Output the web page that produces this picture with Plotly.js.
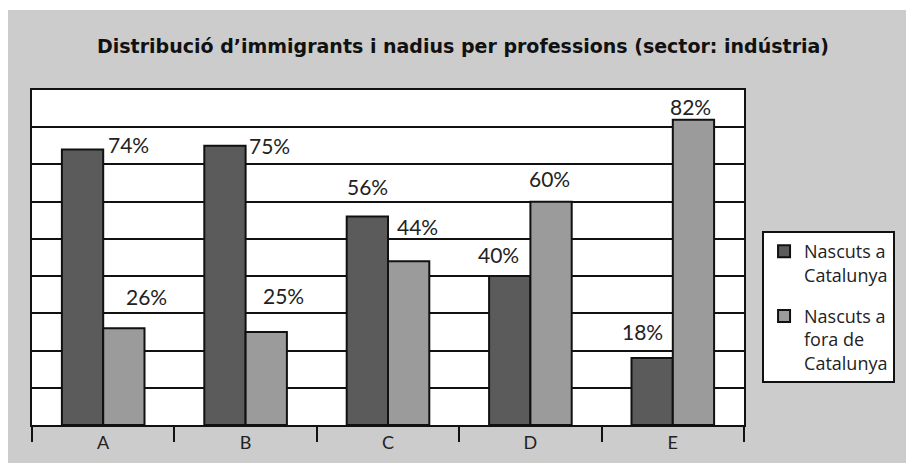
<!DOCTYPE html>
<html>
<head>
<meta charset="utf-8">
<script src="https://cdn.plot.ly/plotly-3.0.1.min.js"></script>
<style>
  html, body { margin: 0; padding: 0; background: #ffffff; width: 906px; height: 463px; overflow: hidden; }
  #chart { position: absolute; left: 8px; top: 10px; width: 898px; height: 453px; }
</style>
</head>
<body>
<div id="chart"></div>
<script>
// ---- data ----
const categories = ['A', 'B', 'C', 'D', 'E'];
const nascutsCatalunya = [74, 75, 56, 40, 18];
const nascutsFora = [26, 25, 44, 60, 82];
const seriesNames = ['Nascuts a<br>Catalunya', 'Nascuts a<br>fora de<br>Catalunya'];
const chartTitle = 'Distribució d’immigrants i nadius per professions (sector: indústria)';

// ---- layout / style settings ----
const FONT = 'Lato, "Open Sans", "DejaVu Sans", sans-serif';
const FONT2 = '"Open Sans", Lato, "DejaVu Sans", sans-serif';
const FONT_TITLE = '"DejaVu Sans", "Open Sans", sans-serif';
const plotW = 712, plotH = 335;
const margin = { l: 24, r: 162, t: 80, b: 38 };
const bargap = 0.42;
const barOff = (plotW / categories.length) * (1 - bargap) / 4;
// label nudges in px [dx, dy] (layout only)
const nudgeDark = [[46, 5], [45, 0], [0, 30], [-11, 22], [-10, 27]];
const nudgeLight = [[23, 32], [17, 36], [9, 35], [-2, 23], [-3, 13]];

const traces = [
  {
    type: 'bar', name: seriesNames[0], x: categories, y: nascutsCatalunya,
    marker: { color: '#5b5b5b', line: { color: '#111111', width: 2 } },
    legendgroup: 'g1', hoverinfo: 'x+y'
  },
  {
    type: 'bar', name: seriesNames[1], x: categories, y: nascutsFora,
    marker: { color: '#9b9b9b', line: { color: '#111111', width: 2 } },
    legendgroup: 'g2', hoverinfo: 'x+y'
  }
];

const annotations = [];
categories.forEach((c, i) => {
  annotations.push({
    x: c, y: nascutsCatalunya[i], xref: 'x', yref: 'y',
    text: nascutsCatalunya[i] + '%', showarrow: false,
    xshift: -barOff + nudgeDark[i][0], yshift: nudgeDark[i][1],
    font: { family: FONT, size: 21, color: '#222' }
  });
  annotations.push({
    x: c, y: nascutsFora[i], xref: 'x', yref: 'y',
    text: nascutsFora[i] + '%', showarrow: false,
    xshift: barOff + nudgeLight[i][0], yshift: nudgeLight[i][1],
    font: { family: FONT, size: 21, color: '#222' }
  });
});

const layout = {
  width: 898, height: 453,
  margin: margin,
  paper_bgcolor: '#cccccc',
  plot_bgcolor: '#ffffff',
  font: { family: FONT, color: '#222' },
  title: {
    text: chartTitle,
    font: { family: FONT_TITLE, size: 19, weight: 'bold', color: '#111' },
    x: 0.5067, xref: 'container', xanchor: 'center',
    y: 0.92, yref: 'container', yanchor: 'middle'
  },
  barmode: 'group',
  bargap: bargap,
  bargroupgap: 0,
  showlegend: true,
  legend: {
    xref: 'container', yref: 'container',
    x: 0.8397, xanchor: 'left', y: 0.5121, yanchor: 'top',
    bgcolor: '#ffffff', bordercolor: '#111111', borderwidth: 2,
    font: { family: FONT2, size: 18, color: '#222' },
    valign: 'top', traceorder: 'grouped', tracegroupgap: 15
  },
  xaxis: {
    type: 'category', automargin: false,
    showline: true, mirror: true, linecolor: '#111111', linewidth: 2,
    ticks: 'outside', tickson: 'boundaries', ticklen: 15, tickwidth: 2, tickcolor: '#111111',
    tickfont: { family: FONT, size: 18, color: '#222' },
    showgrid: false, fixedrange: true
  },
  yaxis: {
    range: [0, 90], dtick: 10, automargin: false,
    showline: true, mirror: true, linecolor: '#111111', linewidth: 2,
    showgrid: true, gridcolor: '#111111', gridwidth: 2,
    zeroline: false, showticklabels: false, ticks: '', fixedrange: true
  },
  annotations: annotations
};

Plotly.newPlot('chart', traces, layout, { displayModeBar: false, staticPlot: true });
</script>
</body>
</html>
